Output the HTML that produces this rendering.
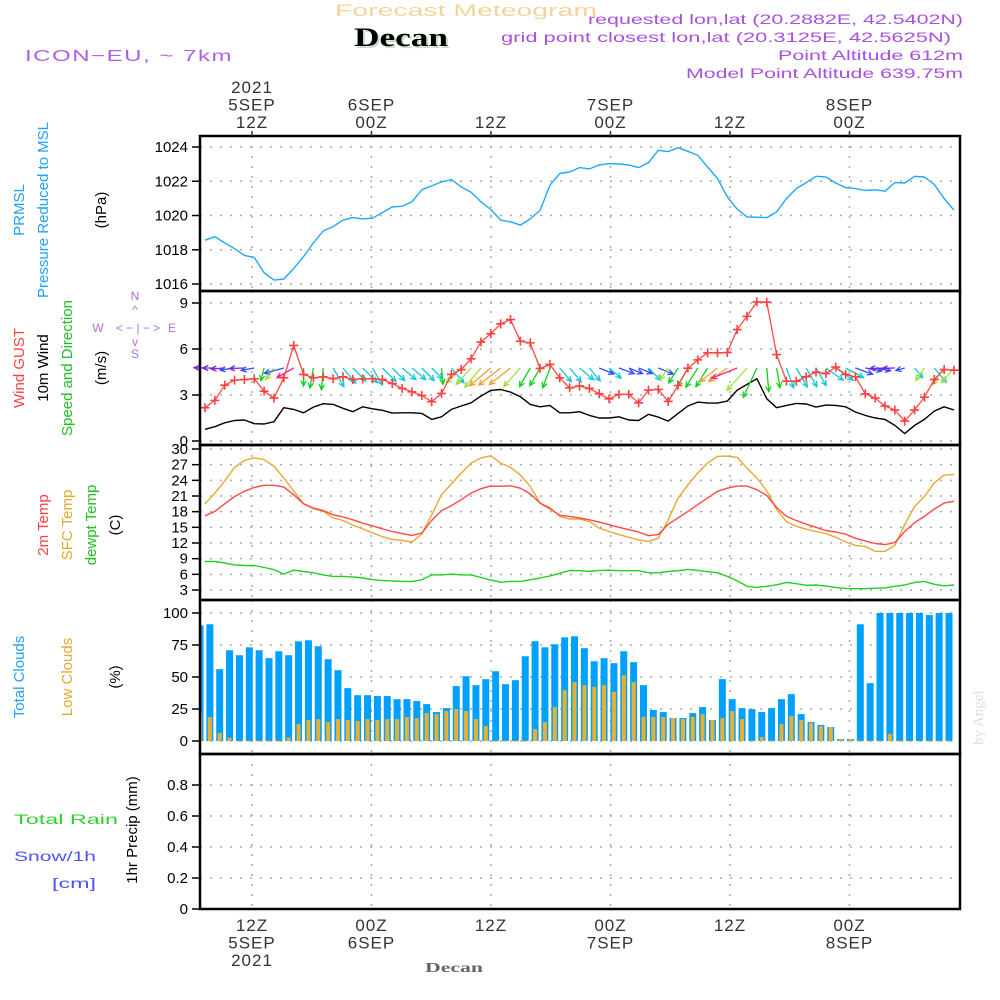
<!DOCTYPE html>
<html><head><meta charset="utf-8"><style>
html,body{margin:0;padding:0;background:#fff;}
svg{display:block;font-family:"Liberation Sans",sans-serif;}
</style></head><body>
<svg id="chart" width="1000" height="1000" viewBox="0 0 1000 1000" xmlns="http://www.w3.org/2000/svg">
<g>
<text x="335" y="16" font-size="17" fill="#f5d49c" textLength="262" lengthAdjust="spacingAndGlyphs">Forecast Meteogram</text>
<text x="403" y="48" font-family="Liberation Serif,serif" font-weight="bold" font-size="26" fill="#c8dcc8" text-anchor="middle" textLength="94" lengthAdjust="spacingAndGlyphs">Decan</text>
<text x="401" y="46" font-family="Liberation Serif,serif" font-weight="bold" font-size="26" fill="#000" text-anchor="middle" textLength="94" lengthAdjust="spacingAndGlyphs">Decan</text>
<text x="25" y="61" font-size="16" fill="#b060e8" letter-spacing="1" textLength="208" lengthAdjust="spacingAndGlyphs">ICON−EU, ~ 7km</text>
<text x="963" y="24" font-size="14" fill="#a850e0" text-anchor="end" textLength="375" lengthAdjust="spacingAndGlyphs">requested lon,lat (20.2882E, 42.5402N)</text>
<text x="951" y="42" font-size="14" fill="#a850e0" text-anchor="end" textLength="450" lengthAdjust="spacingAndGlyphs">grid point closest lon,lat (20.3125E, 42.5625N)</text>
<text x="963" y="60" font-size="14" fill="#a850e0" text-anchor="end" textLength="185" lengthAdjust="spacingAndGlyphs">Point Altitude 612m</text>
<text x="963" y="78" font-size="14" fill="#a850e0" text-anchor="end" textLength="277" lengthAdjust="spacingAndGlyphs">Model Point Altitude 639.75m</text>
</g>
<g font-size="15">
<text transform="translate(24,210) rotate(-90)" text-anchor="middle" fill="#20a0ff">PRMSL</text>
<text transform="translate(48,210) rotate(-90)" text-anchor="middle" fill="#20a0ff">Pressure Reduced to MSL</text>
<text transform="translate(106,210) rotate(-90)" text-anchor="middle" fill="#000">(hPa)</text>
<text transform="translate(24,368) rotate(-90)" text-anchor="middle" fill="#ff4040">Wind GUST</text>
<text transform="translate(48,368) rotate(-90)" text-anchor="middle" fill="#000">10m Wind</text>
<text transform="translate(72,368) rotate(-90)" text-anchor="middle" fill="#20c020">Speed and Direction</text>
<text transform="translate(106,368) rotate(-90)" text-anchor="middle" fill="#000">(m/s)</text>
<text transform="translate(48,525) rotate(-90)" text-anchor="middle" fill="#ff4040">2m Temp</text>
<text transform="translate(72,525) rotate(-90)" text-anchor="middle" fill="#e8a830">SFC Temp</text>
<text transform="translate(96,525) rotate(-90)" text-anchor="middle" fill="#20c020">dewpt Temp</text>
<text transform="translate(120,525) rotate(-90)" text-anchor="middle" fill="#000">(C)</text>
<text transform="translate(24,677) rotate(-90)" text-anchor="middle" fill="#20a0ff">Total Clouds</text>
<text transform="translate(72,677) rotate(-90)" text-anchor="middle" fill="#e8a830">Low Clouds</text>
<text transform="translate(120,677) rotate(-90)" text-anchor="middle" fill="#000">(%)</text>
<text transform="translate(137,830) rotate(-90)" text-anchor="middle" fill="#000">1hr Precip (mm)</text>
<text x="14" y="824" font-size="14" fill="#30d030" textLength="104" lengthAdjust="spacingAndGlyphs">Total   Rain</text>
<text x="14" y="861" font-size="14" fill="#5050ff" textLength="82" lengthAdjust="spacingAndGlyphs">Snow/1h</text>
<text x="52" y="888" font-size="14" fill="#5050ff" textLength="44" lengthAdjust="spacingAndGlyphs">[cm]</text>
<text transform="translate(983,745) rotate(-90)" fill="#ddd" font-family="Liberation Serif,serif" font-size="15">by Angel</text>
<text x="425" y="972" fill="#666" font-family="Liberation Serif,serif" font-weight="bold" font-size="14" textLength="58" lengthAdjust="spacingAndGlyphs">Decan</text>
</g>
<g fill="#b070e0" font-size="12" stroke="none">
<text x="135" y="300" text-anchor="middle">N</text>
<text x="135" y="314" text-anchor="middle">^</text>
<text x="98" y="332" text-anchor="middle">W</text>
<text x="138" y="332" text-anchor="middle" textLength="44" lengthAdjust="spacingAndGlyphs">&lt; − | − &gt;</text>
<text x="172" y="332" text-anchor="middle">E</text>
<text x="135" y="346" text-anchor="middle">v</text>
<text x="135" y="358" text-anchor="middle">S</text>
</g>
<g id="layer"></g>
</svg>
<script>
// ---- data ----
const pressure = [1018.56,1018.76,1018.4,1018.06,1017.67,1017.55,1016.66,1016.23,1016.29,1016.9,1017.6,1018.4,1019.1,1019.35,1019.73,1019.88,1019.8,1019.84,1020.17,1020.5,1020.54,1020.8,1021.5,1021.73,1021.96,1022.1,1021.67,1021.36,1020.8,1020.35,1019.73,1019.63,1019.44,1019.8,1020.3,1021.77,1022.45,1022.54,1022.8,
1022.72,1022.95,1023.03,1023.01,1022.95,1022.8,1023.09,1023.81,1023.73,1023.96,1023.75,1023.51,1022.83,1022.16,1021.09,1020.37,1019.92,1019.9,1019.88,1020.21,1020.99,1021.57,1021.92,1022.29,1022.25,1021.9,1021.63,1021.57,1021.46,1021.5,1021.42,1021.92,1021.9,1022.29,1022.25,1021.81,1020.99,1020.31];
const gust = [2.17,2.65,3.64,3.97,4.01,4.06,3.25,2.8,4.12,6.23,4.34,4.12,4.19,4.06,4.19,4.01,4.06,4.06,4.01,3.75,3.43,3.21,2.97,2.56,3.1,4.34,4.66,5.36,6.46,7.0,7.64,7.92,6.51,6.4,4.73,4.99,4.12,3.47,3.58,
3.43,3.08,2.75,3.04,3.04,2.49,3.32,3.36,2.58,3.62,4.75,5.29,5.75,5.75,5.77,7.27,8.13,9.07,9.05,5.64,3.9,3.9,4.19,4.49,4.4,4.82,4.34,4.19,3.08,2.8,2.28,2.02,1.3,2.02,2.86,4.01,4.66,4.62];
const windSpeed = [0.76,0.93,1.19,1.34,1.37,1.13,1.11,1.26,2.17,2.06,1.84,2.21,2.43,2.39,2.13,1.91,2.23,2.1,2.0,1.82,1.84,1.84,1.8,1.41,1.58,2.06,2.28,2.49,2.93,3.3,3.36,3.19,2.89,2.39,2.23,2.32,1.84,1.84,1.91,
1.67,1.5,1.5,1.58,1.37,1.34,1.74,1.56,1.3,1.8,2.28,2.54,2.47,2.47,2.6,3.32,3.69,4.06,2.75,2.17,2.32,2.45,2.41,2.21,2.34,2.32,2.23,1.89,1.67,1.5,1.41,1.02,0.48,1.02,1.41,1.95,2.23,2.02];
const windToDir = [272,270,266,262,268,260,195,215,255,240,180,190,185,150,140,135,135,150,135,135,130,130,135,135,175,140,225,222,220,230,232,232,222,210,210,200,140,140,130,
140,112,130,110,112,112,135,112,215,212,210,212,212,232,234,248,222,205,175,170,160,150,150,150,125,125,118,110,100,100,268,268,255,140,215,140,215,220];
const temp2m = [17.2,18.05,19.5,20.9,21.9,22.65,23.05,23.05,22.7,21.25,19.5,18.7,18.2,17.4,17.0,16.45,15.8,15.3,14.7,14.2,13.8,13.45,13.9,16.3,18.2,19.15,20.3,21.55,22.4,22.9,22.85,22.95,22.5,21.4,19.65,18.55,17.3,17.1,16.8,
16.45,16.0,15.5,15.0,14.55,14.1,13.4,13.6,15.6,16.8,18.05,19.35,20.6,21.9,22.5,22.9,22.9,22.2,21.1,18.8,17.1,16.3,15.6,15.0,14.4,14.1,13.7,12.9,12.4,11.9,11.7,12.1,14.2,15.9,17.1,18.5,19.65,20.0];
const tempSfc = [19.5,21.55,23.9,26.5,27.8,28.3,27.95,26.7,24.45,22.0,19.5,18.55,18.05,16.8,16.3,15.4,14.7,13.95,13.2,12.7,12.5,12.2,13.7,17.4,21.25,23.3,25.4,27.3,28.3,28.7,27.3,26.5,25.0,22.85,19.65,18.8,17.1,16.6,16.6,
16.1,14.85,14.2,13.6,13.1,12.6,12.3,12.9,16.45,20.6,23.15,25.4,27.3,28.6,28.65,28.4,26.35,24.45,22.0,18.4,16.1,15.2,14.65,14.2,13.8,13.1,12.2,11.55,11.35,10.4,10.4,11.55,15.5,19.0,20.9,23.5,25.0,25.1];
const dewpt = [8.45,8.45,8.15,7.8,7.7,7.7,7.3,6.9,6.05,6.8,6.55,6.3,5.9,5.6,5.6,5.5,5.3,5.0,4.8,4.75,4.65,4.65,4.95,5.9,5.9,6.05,5.9,5.9,5.4,4.9,4.5,4.65,4.65,4.95,5.3,5.7,6.2,6.75,6.7,
6.55,6.75,6.8,6.7,6.7,6.7,6.3,6.3,6.55,6.7,6.95,6.75,6.5,6.3,5.6,4.75,3.7,3.5,3.7,4.0,4.45,4.2,3.9,3.95,3.75,3.5,3.3,3.25,3.25,3.35,3.4,3.7,3.95,4.45,4.65,4.1,3.8,3.95];
const totalClouds = [90.4,91.2,56.1,70.9,67,73.2,70.9,64.7,70.1,67,77.9,78.7,74,63.9,55.3,41.3,35.8,35.8,35.1,35.1,32.7,32.7,31.2,28.8,22.6,25.7,42.9,50.6,43.6,48.3,54.5,44.4,47.5,66.2,77.9,73.2,75.6,81,81.8,72.5,
62.3,64.7,60.8,70.1,61.6,43.6,24.2,22.6,17.9,17.9,21.8,26.5,16.4,48.3,32.7,25.7,24.9,22.6,25.7,32.7,36.6,21,14.8,12.5,10.9,1.6,1.6,91.2,45.2,100,100,100,100,100,98.4,100,100];
const lowClouds = [21.8,18.7,6.2,2.6,0.3,0.3,0.3,0.3,0.3,2.6,13.2,16.4,17.1,14.8,17.1,16.4,15.6,17.1,16.4,17.1,17.1,18.7,17.9,21.8,21,23.4,24.9,23.4,17.1,11.7,0.3,0.3,0.3,0.3,9.4,14.8,26.5,39.7,46,43.6,
42.3,43.6,38.4,51.4,46,18.7,18.7,18.7,17.9,17.1,18.7,21,16.4,17.9,23.4,17.1,0.3,3.1,0.3,13.2,19.5,16.4,14,11.7,10.9,1.6,1.6,0.3,0.3,0.3,5.5,0.3,0.3,0.3,0.3,0.3,0.3];
const precip = [];
const timeTicksH = [12,24,36,48,60,72];
const topLabels = [["2021","5SEP","12Z"],["","6SEP","00Z"],["","","12Z"],["","7SEP","00Z"],["","","12Z"],["","8SEP","00Z"]];
const botLabels = [["12Z","5SEP","2021"],["00Z","6SEP",""],["12Z","",""],["00Z","7SEP",""],["12Z","",""],["00Z","8SEP",""]];
const presTicks = [1016,1018,1020,1022,1024];
const windTicks = [0,3,6,9];
const tempTicks = [3,6,9,12,15,18,21,24,27,30];
const cloudTicks = [0,25,50,75,100];
const precipTicks = [0,0.2,0.4,0.6,0.8];

// ---- layout ----
const L = 200, R = 960;
const NS = "http://www.w3.org/2000/svg";
const layer = document.getElementById('layer');
function mk(tag, attrs, parent){ const e=document.createElementNS(NS,tag); for(const k in attrs) e.setAttribute(k,attrs[k]); (parent||layer).appendChild(e); return e; }
const xT = h => 252 + (h-12)*9.958;
const nPts = pressure.length;
const xI = i => 205 + i*(749/(nPts-1));
function lin(d0,d1,p0,p1){ return v => p0 + (v-d0)*(p1-p0)/(d1-d0); }
const panels = [
 {name:'pressure', top:136, bot:291, y:lin(1016,1024,284,147), ticks:presTicks, fmt:v=>String(v)},
 {name:'wind', top:291, bot:445, y:lin(0,9,441,303), ticks:windTicks, fmt:v=>String(v)},
 {name:'temp', top:445, bot:600, y:lin(3,30,590,449), ticks:tempTicks, fmt:v=>String(v)},
 {name:'cloud', top:600, bot:754, y:lin(0,100,741,613), ticks:cloudTicks, fmt:v=>String(v)},
 {name:'precip', top:754, bot:909, y:lin(0,1,909,754), ticks:precipTicks, fmt:v=>String(v)}
];

panels.forEach(p=>{
  const g = mk('g',{});
  
  
  timeTicksH.forEach(h=>{
    const ln = mk('line',{x1:xT(h),x2:xT(h),y1:p.top,y2:p.bot,stroke:'#aaa','stroke-width':1.5,'stroke-dasharray':'2,8'},g);
    
    
  });
  p.ticks.forEach(v=>{
    const y = p.y(v);
    const ln = mk('line',{x1:L,x2:R,y1:y,y2:y,stroke:'#aaa','stroke-width':1.5,'stroke-dasharray':'2,8'},g);
    
    
    mk('line',{x1:L-8,x2:L,y1:y,y2:y,stroke:'#000','stroke-width':1.5},g);
    const t = mk('text',{x:L-12,y:y+5,'text-anchor':'end','font-size':15,fill:'#000'},g);
    
    
    t.textContent = p.fmt(v);
  });
  p.g = g;
});

function line(arr, yf, color, name, w){
  const pts = arr.map((v,i)=>xI(i).toFixed(1)+','+yf(v).toFixed(1)).join(' ');
  const e = mk('polyline',{points:pts,fill:'none',stroke:color,'stroke-width':w||1.4,'stroke-linejoin':'round'});
  
  
  return e;
}
const P=panels;
line(pressure, P[0].y, '#1ea8ff', 'pressure-line');
const cg = mk('g',{});


totalClouds.forEach((v,i)=>{
  const cx = xI(i)-5;
  const x0 = Math.max(L, cx-3.5), x1 = Math.min(R, cx+3.5);
  const y = P[3].y(v);
  const b = mk('rect',{x:x0,y:y,width:Math.max(0,x1-x0),height:P[3].y(0)-y,fill:'#00a0ff'},cg);
  
  
});
lowClouds.forEach((v,i)=>{
  const cx = xI(i)-5;
  const x0 = Math.max(L, cx-2), x1 = Math.min(R, cx+2);
  const y = P[3].y(v);
  const b = mk('rect',{x:x0,y:y,width:Math.max(0,x1-x0),height:Math.max(1,P[3].y(0)-y),fill:'#e8b030'},cg);
  
  
});
line(tempSfc, P[2].y, '#e8a830', 'sfc-temp-line');
line(temp2m, P[2].y, '#ff4848', 'temp-2m-line');
line(dewpt, P[2].y, '#20d020', 'dewpt-line');
line(windSpeed, P[1].y, '#000', 'wind-speed-line');
function dirColor(a){
  if(a<115) return '#3050ff';
  if(a<165) return '#10c8d8';
  if(a<215) return '#10d020';
  if(a<228) return '#a0e040';
  if(a<240) return '#f0a030';
  if(a<255) return '#ff2080';
  if(a<265) return '#3050ff';
  return '#8020e0';
}
const wg = mk('g',{});


windToDir.forEach((a,i)=>{
  const len = 6 + windSpeed[i]*6.5;
  const rad = a*Math.PI/180;
  const x0 = xI(i), y0 = 368;
  const x1 = x0 + Math.sin(rad)*len, y1 = y0 - Math.cos(rad)*len;
  const col = dirColor(a);
  const back = rad + Math.PI;
  const h1x = x1 + Math.sin(back+0.45)*6, h1y = y1 - Math.cos(back+0.45)*6;
  const h2x = x1 + Math.sin(back-0.45)*6, h2y = y1 - Math.cos(back-0.45)*6;
  const e = mk('path',{d:`M${x0},${y0}L${x1},${y1}M${h1x},${h1y}L${x1},${y1}L${h2x},${h2y}`,stroke:col,'stroke-width':1.3,fill:'none'},wg);
  
  
});
line(gust, P[1].y, '#ff4848', 'gust-line', 1.3);
const gg = mk('g',{});


gust.forEach((v,i)=>{
  const x=xI(i), y=P[1].y(v);
  const e = mk('path',{d:`M${x-4.5},${y}H${x+4.5}M${x},${y-4.5}V${y+4.5}`,stroke:'#ff4040','stroke-width':1.6},gg);
  
  
});

panels.forEach(p=>{
  const r = mk('rect',{x:L,y:p.top,width:R-L,height:p.bot-p.top,fill:'none',stroke:'#000','stroke-width':2.5});
  
  
});
timeTicksH.forEach((h,k)=>{
  const x = xT(h);
  mk('line',{x1:x,x2:x,y1:131,y2:136,stroke:'#333','stroke-width':1.5});
  topLabels[k].forEach((s,j)=>{
    if(!s) return;
    const t = mk('text',{x:x,y:93+j*17.5,'text-anchor':'middle','font-size':17,fill:'#333','letter-spacing':1});
    
    
    t.textContent = s;
  });
  botLabels[k].forEach((s,j)=>{
    if(!s) return;
    const t = mk('text',{x:x,y:931+j*17.5,'text-anchor':'middle','font-size':17,fill:'#333','letter-spacing':1});
    
    
    t.textContent = s;
  });
});
</script>
</body></html>
